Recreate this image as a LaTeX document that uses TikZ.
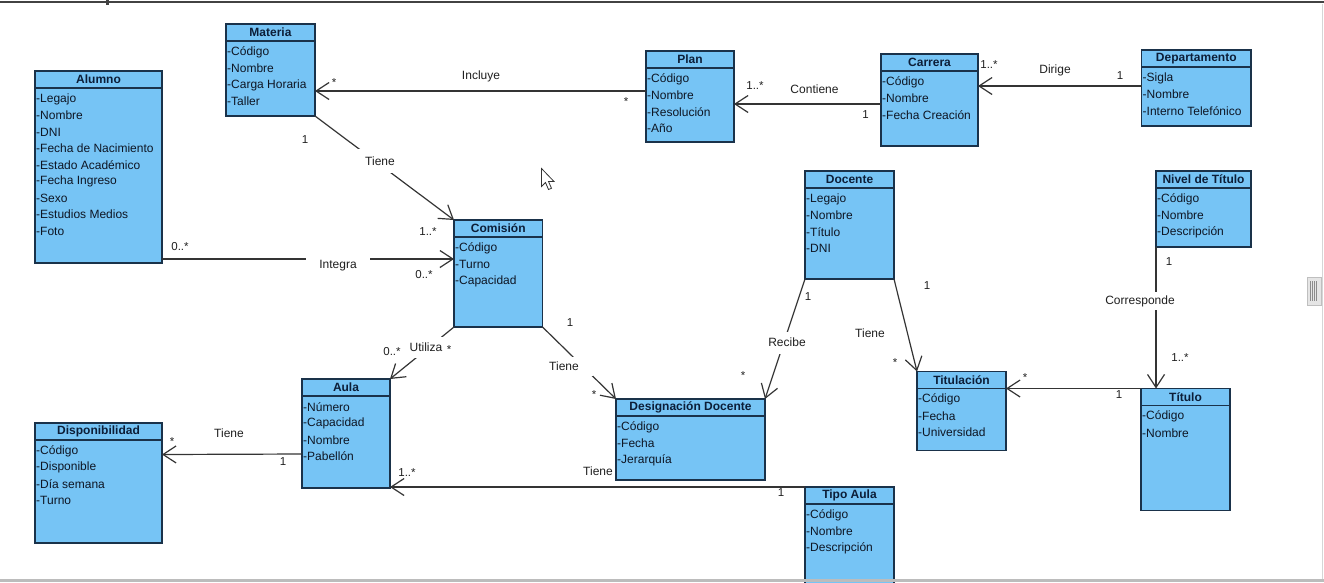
\documentclass[tikz,border=0pt]{standalone}
\usepackage{fontspec}
\setmainfont{Liberation Sans}
\usetikzlibrary{arrows.meta}

\definecolor{clsfill}{RGB}{118,196,245}
\definecolor{clsborder}{RGB}{26,50,74}
\definecolor{clshead}{RGB}{12,30,56}
\definecolor{clstext}{RGB}{14,22,36}
\definecolor{wire}{RGB}{52,52,52}
\definecolor{framegray}{RGB}{66,66,66}
\definecolor{bargray}{RGB}{188,188,188}
\definecolor{edgegray}{RGB}{214,214,214}

\tikzset{
  clsbox/.style={draw=clsborder, fill=clsfill, line width=1.4pt, rectangle,
    inner sep=0pt, outer sep=0pt, anchor=north west},
  clsline/.style={draw=clsborder, line width=1.4pt},
  clstitle/.style={font=\fontsize{12}{14}\selectfont\bfseries, text=clshead, inner sep=0pt},
  clsattr/.style={font=\fontsize{12}{14}\selectfont, text=clstext, anchor=west, inner sep=0pt},
  assoc/.style={draw=wire, line width=1.2pt},
  nav/.style={assoc, -{Straight Barb[length=13pt,width=17pt]}},
  lbl/.style={font=\fontsize{12}{14}\selectfont, text=black!88, inner sep=0pt},
  mult/.style={font=\fontsize{11.5}{13}\selectfont, text=black!88, inner sep=0pt},
  gap/.style={lbl, fill=white},
}

% #1 name, #2 x, #3 y (top-left), #4 width, #5 height, #6 title, #7 attributes
\newcommand{\umlclass}[7]{%
  \node[clsbox, minimum width=#4, minimum height=#5] (#1) at (#2,#3) {};
  \draw[clsline] ([yshift=-17pt]#1.north west) -- ([yshift=-17pt]#1.north east);
  \node[clstitle] (#1-t) at ([yshift=-8.5pt]#1.north) {#6};
  \foreach \a [count=\i] in {#7} {
    \node[clsattr] (#1-a\i) at ([xshift=1pt,yshift={-28pt-16.5pt*(\i-1)}]#1.north west) {\a};
  }%
}

\begin{document}
\begin{tikzpicture}[x=1pt, y=-1pt]
\useasboundingbox (0,0) rectangle (1324,582);
\clip (0,0) rectangle (1324,582);

% window frame
\fill[framegray] (0,0.5) rectangle (1324,3.3);
\fill[framegray] (106,0) rectangle (108.5,4.5);
\draw[edgegray, line width=1pt] (1322.5,4) -- (1322.5,580);
\draw[fill=black!10, draw=black!25, line width=0.6pt] (1307,277) rectangle (1321,305);
\foreach \sx in {1310.5,1312.5,1314.5,1316.5}
  \draw[black!45, line width=0.6pt] (\sx,281) -- (\sx,301);

% classes
\umlclass{materia}{226}{24}{89}{92}{Materia}{-Código,-Nombre,-Carga Horaria,-Taller}
\umlclass{alumno}{35}{71}{127}{192}{Alumno}{-Legajo,-Nombre,-DNI,-Fecha de Nacimiento,-Estado Académico,-Fecha Ingreso,-Sexo,-Estudios Medios,-Foto}
\umlclass{plan}{646}{51}{88}{91}{Plan}{-Código,-Nombre,-Resolución,-Año}
\umlclass{carrera}{881}{54}{97}{92}{Carrera}{-Código,-Nombre,-Fecha Creación}
\umlclass{departamento}{1141.5}{50}{109.5}{76}{Departamento}{-Sigla,-Nombre,-Interno Telefónico}
\umlclass{comision}{454}{220}{88.5}{107}{Comisión}{-Código,-Turno,-Capacidad}
\umlclass{docente}{805}{171}{89}{108}{Docente}{-Legajo,-Nombre,-Título,-DNI}
\umlclass{nivel}{1156}{171}{95}{76}{Nivel de Título}{-Código,-Nombre,-Descripción}
\umlclass{aula}{302}{379}{88}{109}{Aula}{-Número,-Capacidad,-Nombre,-Pabellón}
\umlclass{disponibilidad}{35}{423}{127}{120}{Disponibilidad}{-Código,-Disponible,-Día semana,-Turno}
\umlclass{designacion}{616}{399}{149}{81}{Designación Docente}{-Código,-Fecha,-Jerarquía}
\umlclass{titulacion}{917}{371.5}{89}{79}{Titulación}{-Código,-Fecha,-Universidad}
\umlclass{titulo}{1141}{388.5}{89}{122}{Título}{-Código,-Nombre}
\umlclass{tipoaula}{805}{487}{89}{105}{Tipo Aula}{-Código,-Nombre,-Descripción}

% associations
\draw[nav] ([yshift=-40pt]plan.north west) -- ([yshift=-67pt]materia.north east);
\draw[nav] ([yshift=-50pt]carrera.north west) -- ([yshift=-53pt]plan.north east);
\draw[nav] ([yshift=-36pt]departamento.north west) -- ([yshift=-32pt]carrera.north east);
\draw[nav] (materia.south east) -- (comision.north west);
\draw[nav] ([yshift=-188pt]alumno.north east) -- ([yshift=-39pt]comision.north west);
\draw[nav] (comision.south west) -- (aula.north east);
\draw[nav] (comision.south east) -- (designacion.north west);
\draw[nav] (docente.south west) -- (designacion.north east);
\draw[nav] (docente.south east) -- (titulacion.north west);
\draw[nav] (nivel.south west) -- (nivel.south west |- titulo.north);
\draw[nav] (titulo.north west) -- ([yshift=-17pt]titulacion.north east);
\draw[nav] ([yshift=-75pt]aula.north west) -- ([yshift=-31.5pt]disponibilidad.north east);
\draw[nav] (tipoaula.north west) -- ([yshift=-108pt]aula.north east);

% association names and multiplicities
\node[lbl]  (l-incluye) at (481,76) {Incluye};
\node[mult] (m-inc-a) at (334,82.5) {*};
\node[mult] (m-inc-b) at (626,101.5) {*};

\node[mult] (m-con-a) at (755,86) {1..*};
\node[lbl]  (l-contiene) at (814.5,89) {Contiene};
\node[mult] (m-con-b) at (865.5,115) {1};

\node[mult] (m-dir-a) at (989,65) {1..*};
\node[lbl]  (l-dirige) at (1055,70) {Dirige};
\node[mult] (m-dir-b) at (1120,76) {1};

\node[gap, minimum width=44, minimum height=24] (l-tiene1) at (380,161) {Tiene};
\node[mult] (m-t1-a) at (305,140) {1};
\node[mult] (m-t1-b) at (428,232) {1..*};

\node[gap, minimum width=64, minimum height=20] (l-integra) at (338,266) {Integra};
\node[mult] (m-int-a) at (180,247) {0..*};
\node[mult] (m-int-b) at (424,275) {0..*};

\node[gap, minimum width=36, minimum height=21] (l-utiliza) at (426,347) {Utiliza};
\node[mult] (m-uti-a) at (449,350) {*};
\node[mult] (m-uti-b) at (392,352) {0..*};

\node[gap, minimum width=58, minimum height=19] (l-tiene2) at (564,366) {Tiene};
\node[mult] (m-t2-a) at (570,323) {1};
\node[mult] (m-t2-b) at (594,394.5) {*};

\node[gap, minimum width=40, minimum height=22] (l-recibe) at (787,342.5) {Recibe};
\node[mult] (m-rec-a) at (808,297) {1};
\node[mult] (m-rec-b) at (743,375.5) {*};

\node[lbl]  (l-tiene3) at (870,333) {Tiene};
\node[mult] (m-t3-a) at (927,286) {1};
\node[mult] (m-t3-b) at (895,362.5) {*};

\node[gap, minimum width=72, minimum height=18] (l-corr) at (1140,301) {Corresponde};
\node[mult] (m-cor-a) at (1169,262) {1};
\node[mult] (m-cor-b) at (1180,358) {1..*};

\node[mult] (m-tit-a) at (1025,377.5) {*};
\node[mult] (m-tit-b) at (1119,395) {1};

\node[lbl]  (l-tiene4) at (229,433) {Tiene};
\node[mult] (m-t4-a) at (172,441.5) {*};
\node[mult] (m-t4-b) at (283,462) {1};

\node[lbl]  (l-tiene5) at (598,471) {Tiene};
\node[mult] (m-t5-a) at (781,493) {1};
\node[mult] (m-t5-b) at (407,473) {1..*};

% mouse pointer
\draw[fill=white, draw=black!80, line width=0.8pt, line join=miter]
  (541.5,168.5) -- (541.5,186.5) -- (545.5,182.5) -- (548.5,189.5)
  -- (551.5,188.3) -- (548.5,181.5) -- (554,181.5) -- cycle;

% bottom edge of the view
\fill[bargray] (0,579) rectangle (1324,582);
\end{tikzpicture}
\end{document}
